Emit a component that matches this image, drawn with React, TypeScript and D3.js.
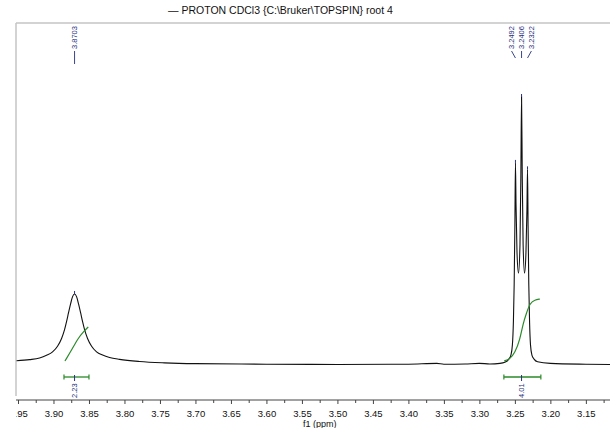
import React, { useEffect, useRef } from 'react'
import * as d3 from 'd3'

// spectrum: [ppm, relative intensity]
const spectrum: [number, number][] = [
  [3.952, 1.6], [3.9337, 2.0], [3.9196, 2.6], [3.9098, 3.6], [3.9013, 4.9],
  [3.8943, 7.0], [3.8886, 9.9], [3.8844, 13.2], [3.8816, 16.2], [3.8788, 19.5],
  [3.8759, 22.8], [3.8731, 25.5], [3.8703, 26.5], [3.8675, 25.5], [3.8647, 22.8],
  [3.8618, 19.5], [3.859, 16.2], [3.8562, 13.2], [3.852, 9.9], [3.8463, 7.0],
  [3.8393, 4.9], [3.8308, 3.7], [3.821, 2.8], [3.8069, 2.1], [3.7787, 1.3],
  [3.7435, 0.8], [3.7, 0.5], [3.6, 0.3], [3.5, 0.2], [3.4, 0.3], [3.36, 0.6],
  [3.35, 0.3], [3.32, 0.4], [3.3, 0.6], [3.2852, 0.4], [3.2711, 0.6],
  [3.2641, 1.0], [3.2585, 2.2], [3.2556, 3.7], [3.2535, 7.5], [3.2521, 16],
  [3.251, 30], [3.25, 52], [3.2492, 75.4], [3.2484, 60], [3.247, 42],
  [3.2449, 34.3], [3.2428, 45], [3.2416, 70], [3.2406, 100], [3.2396, 70],
  [3.2384, 45], [3.2364, 34.3], [3.2344, 42], [3.233, 58], [3.2322, 73],
  [3.2314, 52], [3.2304, 30], [3.2293, 16], [3.228, 7.5], [3.226, 3.7],
  [3.223, 2.2], [3.218, 1.2], [3.2, 0.6], [3.15, 0.3], [3.116, 0.2],
]

const integral1: [number, number][] = [
  [3.8838, 1.5], [3.8744, 5.6], [3.8651, 10.1], [3.858, 12.3], [3.851, 14.2],
]
const integral2: [number, number][] = [
  [3.2651, 1.5], [3.257, 2.2], [3.25, 4.5], [3.243, 9.3], [3.2383, 15.7],
  [3.2335, 19.4], [3.2289, 23.1], [3.2218, 24.3], [3.2148, 24.6],
]

// integration regions: [from, to, centre, value]
const regions: [number, number, number, string][] = [
  [3.8852, 3.85, 3.8703, '2.23'],
  [3.2655, 3.2134, 3.2406, '4.01'],
]

// peak picks: [peak ppm, label offset in ppm, height]
const peaks: [number, number, number][] = [
  [3.8703, 0, 26.5],
  [3.2492, 0.0055, 75.4],
  [3.2406, 0, 100],
  [3.2322, -0.0055, 73],
]

const majorTicks = d3.range(0, 17).map(i => +(3.95 - i * 0.05).toFixed(2))
const minorTicks = d3.range(0, 17).map(i => +(3.925 - i * 0.05).toFixed(3))

const title = '\u2014 PROTON CDCl3 {C:\\Bruker\\TOPSPIN} root 4'

const App = () => {
  const svgRef = useRef(null)

  useEffect(() => {
    const width = 610
    const height = 428
    const font = 'Liberation Sans, Arial, sans-serif'
    const blue = '#27307e'
    const green = '#2a8a2a'

    const svg = d3.select(svgRef.current)
      .attr('width', width)
      .attr('height', height)
    svg.selectAll('*').remove()

    const x = d3.scaleLinear().domain([3.9528, 3.116]).range([16, 610])
    const y = d3.scaleLinear().domain([0, 100]).range([365, 97])

    svg.append('defs').append('clipPath').attr('id', 'plotclip')
      .append('rect').attr('x', 16).attr('y', 0).attr('width', 594).attr('height', height)

    // frame
    svg.append('line').attr('x1', 16).attr('x2', 610).attr('y1', 23).attr('y2', 23)
      .attr('stroke', '#c4c4c4').attr('stroke-width', 1.5)
    svg.append('line').attr('x1', 16).attr('x2', 16).attr('y1', 23).attr('y2', 396)
      .attr('stroke', '#c4c4c4').attr('stroke-width', 1.5)

    // title
    svg.append('text').attr('x', 168).attr('y', 14)
      .attr('font-family', font).attr('font-size', 10.5).attr('fill', '#111')
      .text(title)

    const line = d3.line<[number, number]>()
      .x(d => x(d[0])).y(d => y(d[1]))
      .curve(d3.curveMonotoneX)

    const g = svg.append('g').attr('clip-path', 'url(#plotclip)')

    g.append('path').datum(spectrum)
      .attr('d', line)
      .attr('fill', 'none').attr('stroke', '#111').attr('stroke-width', 1.1)

    ;[integral1, integral2].forEach(d => {
      g.append('path').datum(d)
        .attr('d', d3.line<[number, number]>().x(p => x(p[0])).y(p => y(p[1])).curve(d3.curveBasis))
        .attr('fill', 'none').attr('stroke', green).attr('stroke-width', 1.2)
    })

    // integration bars
    regions.forEach(([a, b, c, v]) => {
      const by = 377
      g.append('line').attr('x1', x(a)).attr('x2', x(b)).attr('y1', by).attr('y2', by)
        .attr('stroke', green).attr('stroke-width', 1.3)
      ;[a, b].forEach(e => {
        g.append('line').attr('x1', x(e)).attr('x2', x(e)).attr('y1', by - 2.5).attr('y2', by + 2.5)
          .attr('stroke', green).attr('stroke-width', 1.2)
      })
      g.append('line').attr('x1', x(c)).attr('x2', x(c)).attr('y1', by - 2).attr('y2', by + 4)
        .attr('stroke', blue).attr('stroke-width', 1)
      g.append('text')
        .attr('transform', `translate(${x(c) + 2.7},${398}) rotate(-90)`)
        .attr('font-family', font).attr('font-size', 7.5).attr('fill', blue)
        .text(v)
    })

    // peak labels
    peaks.forEach(([p, off, h]) => {
      const lx = x(p + off)
      const px = x(p)
      g.append('text')
        .attr('transform', `translate(${lx + 2.7},49) rotate(-90)`)
        .attr('font-family', font).attr('font-size', 7.5).attr('fill', blue)
        .text(p.toFixed(4))
      g.append('line').attr('x1', lx).attr('y1', 51).attr('x2', px).attr('y2', off === 0 && h < 50 ? 64 : 58)
        .attr('stroke', blue).attr('stroke-width', 0.9)
      g.append('line').attr('x1', px).attr('x2', px).attr('y1', y(h) - 3).attr('y2', y(h))
        .attr('stroke', blue).attr('stroke-width', 1)
    })

    // x axis
    const axisG = svg.append('g').attr('transform', 'translate(0,400)')
    axisG.append('line').attr('x1', 16).attr('x2', 610)
      .attr('stroke', '#444').attr('stroke-width', 1)
    const major = axisG.append('g').attr('clip-path', 'url(#plotclip)')
      .call(d3.axisBottom(x).tickValues(majorTicks).tickFormat(d3.format('.2f')).tickSize(4))
    major.select('.domain').remove()
    major.selectAll('text').attr('font-family', font).attr('font-size', 9.5).attr('fill', '#111')
      .attr('y', 10).attr('dy', '0.71em')
    major.selectAll('line').attr('stroke', '#444')
    const minor = axisG.append('g')
      .call(d3.axisBottom(x).tickValues(minorTicks).tickFormat(() => '').tickSize(3))
    minor.select('.domain').remove()
    minor.selectAll('line').attr('stroke', '#444')

    svg.append('text').attr('x', x(3.525)).attr('y', 427)
      .attr('text-anchor', 'middle')
      .attr('font-family', font).attr('font-size', 9).attr('fill', '#111')
      .text('f1 (ppm)')
  }, [])

  return (
    <div>
      <svg ref={svgRef} style={{ position: 'absolute', left: 0, top: 0 }}></svg>
    </div>
  )
}

export default App
